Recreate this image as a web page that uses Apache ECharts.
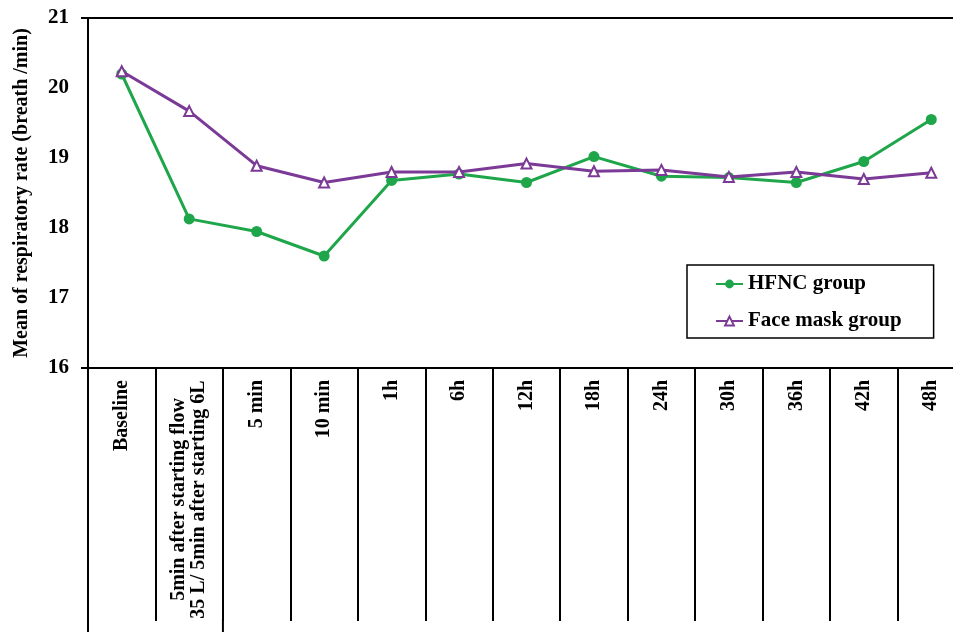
<!DOCTYPE html>
<html>
<head>
<meta charset="utf-8">
<script src="https://cdn.jsdelivr.net/npm/echarts@6/dist/echarts.min.js"></script>
<style>
  html, body { margin: 0; padding: 0; background: #fff; overflow: hidden; }
  #chart { width: 970px; height: 632px; }
</style>
</head>
<body>
<div id="chart"></div>
<script>
// Time points (the second one has a two-line label)
const timePoints = [
  'Baseline',
  '5min after starting flow\n35 L/ 5min after starting 6L',
  '5 min', '10 min', '1h', '6h', '12h', '18h', '24h', '30h', '36h', '42h', '48h'
];

// Mean respiratory rate (breath/min)
const hfncGroup = [20.2, 18.13, 17.95, 17.6, 18.68, 18.77, 18.65, 19.02, 18.74, 18.72, 18.65, 18.95, 19.55];
const faceMaskGroup = [20.24, 19.67, 18.89, 18.65, 18.8, 18.8, 18.92, 18.81, 18.83, 18.73, 18.8, 18.7, 18.79];

const yTicks = { min: 16, max: 21, step: 1 };

const FONT = '"Liberation Serif", "Times New Roman", serif';
const LABEL_SIZE = 20;
const GREEN = '#1fa64a';
const PURPLE = '#7b3a96';

// Width of the widest line among multi-line labels, so each line can be centred in it
const ctx = document.createElement('canvas').getContext('2d');
ctx.font = 'bold ' + LABEL_SIZE + 'px ' + FONT;
const blockWidth = Math.ceil(Math.max(...timePoints
  .filter(t => t.includes('\n'))
  .flatMap(t => t.split('\n'))
  .map(s => ctx.measureText(s).width)));

const chart = echarts.init(document.getElementById('chart'), null, { renderer: 'canvas' });

const labelStyle = { fontFamily: FONT, fontWeight: 'bold', fontSize: LABEL_SIZE, lineHeight: 20, color: '#000' };

const option = {
  backgroundColor: '#fff',
  animation: false,
  grid: {
    left: 88, top: 18, width: 877, height: 350,
    show: true, borderColor: '#000', borderWidth: 2, backgroundColor: 'transparent'
  },
  legend: {
    orient: 'vertical',
    left: 687, top: 265,
    padding: [8, 32, 6, 28],
    itemGap: 15,
    itemWidth: 27, itemHeight: 11,
    backgroundColor: '#fff',
    borderColor: '#000', borderWidth: 1.5,
    textStyle: { fontFamily: FONT, fontWeight: 'bold', fontSize: 21, color: '#000', lineHeight: 22 },
    data: ['HFNC group', 'Face mask group']
  },
  xAxis: {
    type: 'category',
    data: timePoints,
    boundaryGap: true,
    axisLine: { lineStyle: { color: '#000', width: 2 } },
    axisTick: { show: true, length: 253, lineStyle: { color: '#000', width: 2 } },
    axisLabel: {
      rotate: 90, margin: 12, color: '#000', interval: 0,
      formatter: v => v.includes('\n')
        ? v.split('\n').map(s => '{m|' + s + '}').join('\n')
        : '{s|' + v + '}',
      rich: {
        s: labelStyle,
        m: Object.assign({}, labelStyle, { width: blockWidth, align: 'center' })
      }
    },
    splitLine: { show: false }
  },
  yAxis: {
    type: 'value',
    min: yTicks.min, max: yTicks.max, interval: yTicks.step,
    name: 'Mean of respiratory rate (breath /min)',
    nameLocation: 'middle',
    nameGap: 56,
    nameTextStyle: { fontFamily: FONT, fontWeight: 'bold', fontSize: 20, color: '#000' },
    axisLine: { show: true, lineStyle: { color: '#000', width: 2 } },
    axisTick: { show: false },
    axisLabel: { margin: 19, fontFamily: FONT, fontWeight: 'bold', fontSize: 21, color: '#000' },
    splitLine: { show: false }
  },
  series: [
    {
      name: 'HFNC group',
      type: 'line',
      data: hfncGroup,
      symbol: 'circle', symbolSize: 11,
      itemStyle: { color: GREEN },
      lineStyle: { color: GREEN, width: 3 },
      z: 2
    },
    {
      name: 'Face mask group',
      type: 'line',
      data: faceMaskGroup,
      symbol: 'triangle', symbolSize: 10,
      itemStyle: { color: '#fff', borderColor: PURPLE, borderWidth: 2 },
      lineStyle: { color: PURPLE, width: 3 },
      z: 3
    }
  ]
};

chart.setOption(option);

// Extend the left border and the divider after the second column to the page bottom
const c0 = chart.convertToPixel({ xAxisIndex: 0 }, 0);
const c1 = chart.convertToPixel({ xAxisIndex: 0 }, 1);
const band = c1 - c0;
const tickEnd = 368 + 253;
const edges = [c0 - band / 2, c1 + band / 2];
chart.setOption({
  graphic: edges.map(x => ({
    type: 'line',
    shape: { x1: x, y1: tickEnd - 2, x2: x, y2: 632 },
    style: { stroke: '#000', lineWidth: 2 }
  })).concat([18, 368].map(y => ({
    type: 'line',
    shape: { x1: 81, y1: y, x2: 88, y2: y },
    style: { stroke: '#000', lineWidth: 2 }
  })))
});
</script>
</body>
</html>
